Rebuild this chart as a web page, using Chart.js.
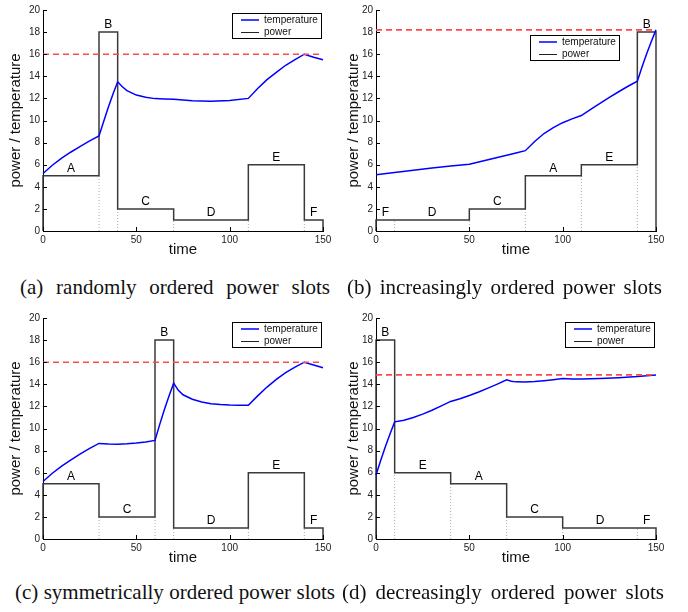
<!DOCTYPE html>
<html><head><meta charset="utf-8">
<script src="https://cdn.jsdelivr.net/npm/chart.js@4.4.1/dist/chart.umd.min.js"></script>
<style>
body{margin:0;background:#fff;width:688px;height:612px;position:relative;overflow:hidden}
.box{position:absolute;width:344px;height:260px}
.cap{position:absolute;font-family:"Liberation Serif","Times New Roman",serif;font-size:21px;white-space:nowrap;color:#111;text-align:justify;text-align-last:justify;line-height:24px;height:24px}
</style></head><body>
<div class="box" style="left:0;top:0"><canvas id="ca" width="344" height="260"></canvas></div>
<div class="box" style="left:333px;top:0"><canvas id="cb" width="344" height="260"></canvas></div>
<div class="box" style="left:0;top:308px"><canvas id="cc" width="344" height="260"></canvas></div>
<div class="box" style="left:333px;top:308px"><canvas id="cd" width="344" height="260"></canvas></div>
<div class="cap" style="left:20px;top:275px;width:310px">(a) randomly ordered power slots</div>
<div class="cap" style="left:347px;top:275px;width:315px">(b) increasingly ordered power slots</div>
<div class="cap" style="left:15px;top:580px;width:320px">(c) symmetrically ordered power slots</div>
<div class="cap" style="left:342px;top:580px;width:322px">(d) decreasingly ordered power slots</div>
<script>
// ---- data ----
const slotNames = ['A','B','C','D','E','F'];
const slotPower = [5, 18, 2, 1, 6, 1];
const slotLength = [30, 10, 30, 40, 30, 10];

const orderA = ['A','B','C','D','E','F'];
const orderB = ['F','D','C','A','E','B'];
const orderC = ['A','C','B','D','E','F'];
const orderD = ['B','E','A','C','D','F'];

const timeA = [0,5,10,15,20,25,30,32.5,35,37.5,40,42.5,45,50,55,60,65,70,80,90,100,110,115,120,125,130,135,140,145,150];
const tempA = [5.2,5.95,6.6,7.15,7.65,8.15,8.6,9.9,11.2,12.4,13.5,13.05,12.7,12.3,12.1,11.98,11.95,11.92,11.78,11.75,11.82,12.0,12.9,13.7,14.35,15.0,15.5,16.0,15.72,15.5];

const timeB = [0,10,20,30,40,50,55,60,65,70,75,80,85,90,95,100,105,110,115,120,125,130,135,140,142.5,145,147.5,150];
const tempB = [5.1,5.3,5.5,5.7,5.88,6.05,6.25,6.45,6.66,6.86,7.06,7.27,8.1,8.82,9.35,9.8,10.15,10.45,11.0,11.55,12.1,12.6,13.1,13.55,14.85,16.05,17.15,18.2];

const timeC = [0,5,10,15,20,25,30,35,40,45,50,55,60,62.5,65,67.5,70,72.5,75,80,85,90,95,100,105,110,115,120,125,130,135,140,145,150];
const tempC = [5.2,5.95,6.6,7.15,7.7,8.2,8.65,8.6,8.58,8.62,8.68,8.78,8.92,10.35,11.7,12.95,14.1,13.45,13.05,12.65,12.4,12.25,12.17,12.12,12.1,12.1,12.95,13.75,14.45,15.05,15.55,16.0,15.75,15.5];

const timeD = [0,2.5,5,7.5,10,15,20,25,30,35,40,45,50,55,60,65,70,72.5,75,80,85,90,95,100,105,110,120,130,140,145,150];
const tempD = [5.8,7.1,8.35,9.5,10.6,10.75,11.0,11.3,11.65,12.05,12.45,12.7,12.98,13.3,13.65,14.02,14.4,14.28,14.22,14.2,14.25,14.33,14.42,14.52,14.48,14.47,14.52,14.6,14.7,14.78,14.85];

const xTicksMax = 150, xStep = 50, yMax = 20, yStep = 2;

// ---- helpers ----
const SANS = '"Liberation Sans", Arial, Helvetica, sans-serif';

function slotsFor(order){
  let t = 0; const out = [];
  order.forEach(n => {
    const i = slotNames.indexOf(n);
    out.push({name:n, start:t, end:t+slotLength[i], p:slotPower[i]});
    t += slotLength[i];
  });
  return out;
}

const tickPlugin = {
  id:'innerTicks',
  afterDraw(chart){
    const {ctx, chartArea:a, scales:{x,y}} = chart;
    ctx.save(); ctx.strokeStyle='#000'; ctx.lineWidth=1; ctx.beginPath();
    x.ticks.forEach(t => { const px = Math.round(x.getPixelForValue(t.value))+0.5; ctx.moveTo(px, a.bottom); ctx.lineTo(px, a.bottom-4); });
    y.ticks.forEach(t => { const py = Math.round(y.getPixelForValue(t.value))+0.5; ctx.moveTo(a.left, py); ctx.lineTo(a.left+4, py); });
    ctx.stroke(); ctx.restore();
  }
};

const labelPlugin = {
  id:'slotLabels',
  afterDatasetsDraw(chart, args, o){
    const {ctx, scales:{x,y}} = chart;
    ctx.save(); ctx.fillStyle='#000'; ctx.font='12px '+SANS; ctx.textAlign='center'; ctx.textBaseline='alphabetic';
    o.slots.forEach(s => {
      ctx.fillText(s.name, x.getPixelForValue((s.start+s.end)/2), y.getPixelForValue(s.p)-4);
    });
    ctx.restore();
  }
};

const legendPlugin = {
  id:'boxLegend',
  afterDraw(chart, args, o){
    const {ctx, chartArea:a} = chart;
    const w = 89, h = 25;
    const bx = Math.round(a.right - o.right - w), by = Math.round(a.top + o.top);
    ctx.save();
    ctx.fillStyle='#fff'; ctx.fillRect(bx, by, w, h);
    ctx.strokeStyle='#000'; ctx.lineWidth=1; ctx.strokeRect(bx+0.5, by+0.5, w, h);
    ctx.font='10px '+SANS; ctx.textBaseline='middle'; ctx.fillStyle='#111';
    const rows = [{t:'temperature', c:'#0000ff', lw:1.5},{t:'power', c:'#222', lw:1}];
    rows.forEach((r,i) => {
      const ry = by + 7 + i*12.5;
      ctx.strokeStyle=r.c; ctx.lineWidth=r.lw; ctx.beginPath(); ctx.moveTo(bx+9, ry); ctx.lineTo(bx+27, ry); ctx.stroke();
      ctx.fillText(r.t, bx+32, ry);
    });
    ctx.restore();
  }
};

function makeChart(id, order, times, temps, cfg){
  const slots = slotsFor(order);
  const power = [{x:0,y:0}];
  slots.forEach(s => { power.push({x:s.start,y:s.p}); power.push({x:s.end,y:s.p}); });
  power.push({x:slots[slots.length-1].end, y:0});
  const dots = [];
  for (let i=0;i<slots.length-1;i++){
    const t = slots[i].end, lo = Math.min(slots[i].p, slots[i+1].p);
    dots.push({x:t,y:0},{x:t,y:lo},{x:t,y:null});
  }
  const temp = times.map((t,i)=>({x:t,y:temps[i]}));
  const maxT = Math.max(...temps);
  const thr = [{x:0,y:maxT},{x:xTicksMax,y:maxT}];

  new Chart(document.getElementById(id), {
    type:'line',
    data:{datasets:[
      {data:thr, borderColor:'#ff4a4a', borderWidth:1.6, borderDash:[6,4], pointRadius:0, order:0, clip:4},
      {data:temp, borderColor:'#0000ff', borderWidth:1.5, pointRadius:0, tension:0, order:1, clip:4},
      {data:power, borderColor:'#3a3a3a', borderWidth:1.5, pointRadius:0, tension:0, order:2, clip:4},
      {data:dots, borderColor:'#aaaaaa', borderWidth:1, borderDash:[1,2], pointRadius:0, spanGaps:false, order:3, clip:4}
    ]},
    options:{
      responsive:false, animation:false, parsing:true,
      layout:{padding:{top:10,right:21,left:0,bottom:0}},
      plugins:{legend:{display:false}, tooltip:{enabled:false},
        slotLabels:{slots}, boxLegend:cfg.legend},
      scales:{
        x:{type:'linear', min:0, max:xTicksMax,
          ticks:{stepSize:xStep, padding:3, color:'#222', font:{family:SANS,size:10}},
          grid:{display:false, drawTicks:false},
          border:{display:true,color:'#000',width:1},
          title:{display:true,text:'time',color:'#111',font:{family:SANS,size:15},padding:{top:0,bottom:1}},
          afterFit(s){ s.height = 29; }},
        y:{type:'linear', min:0, max:yMax,
          ticks:{stepSize:yStep, padding:3, color:'#222', font:{family:SANS,size:10}},
          grid:{display:false, drawTicks:false},
          border:{display:true,color:'#000',width:1},
          title:{display:true,text:'power / temperature',color:'#111',font:{family:SANS,size:15},padding:{top:cfg.titlePad,bottom:0}},
          afterFit(s){ s.width = 43; }}
      }
    },
    plugins:[tickPlugin, labelPlugin, legendPlugin]
  });
}

makeChart('ca', orderA, timeA, tempA, {legend:{right:2,top:3}, titlePad:7});
makeChart('cb', orderB, timeB, tempB, {legend:{right:37,top:25}, titlePad:12});
makeChart('cc', orderC, timeC, tempC, {legend:{right:2,top:4}, titlePad:7});
makeChart('cd', orderD, timeD, tempD, {legend:{right:2,top:4}, titlePad:12});
</script>
</body></html>
